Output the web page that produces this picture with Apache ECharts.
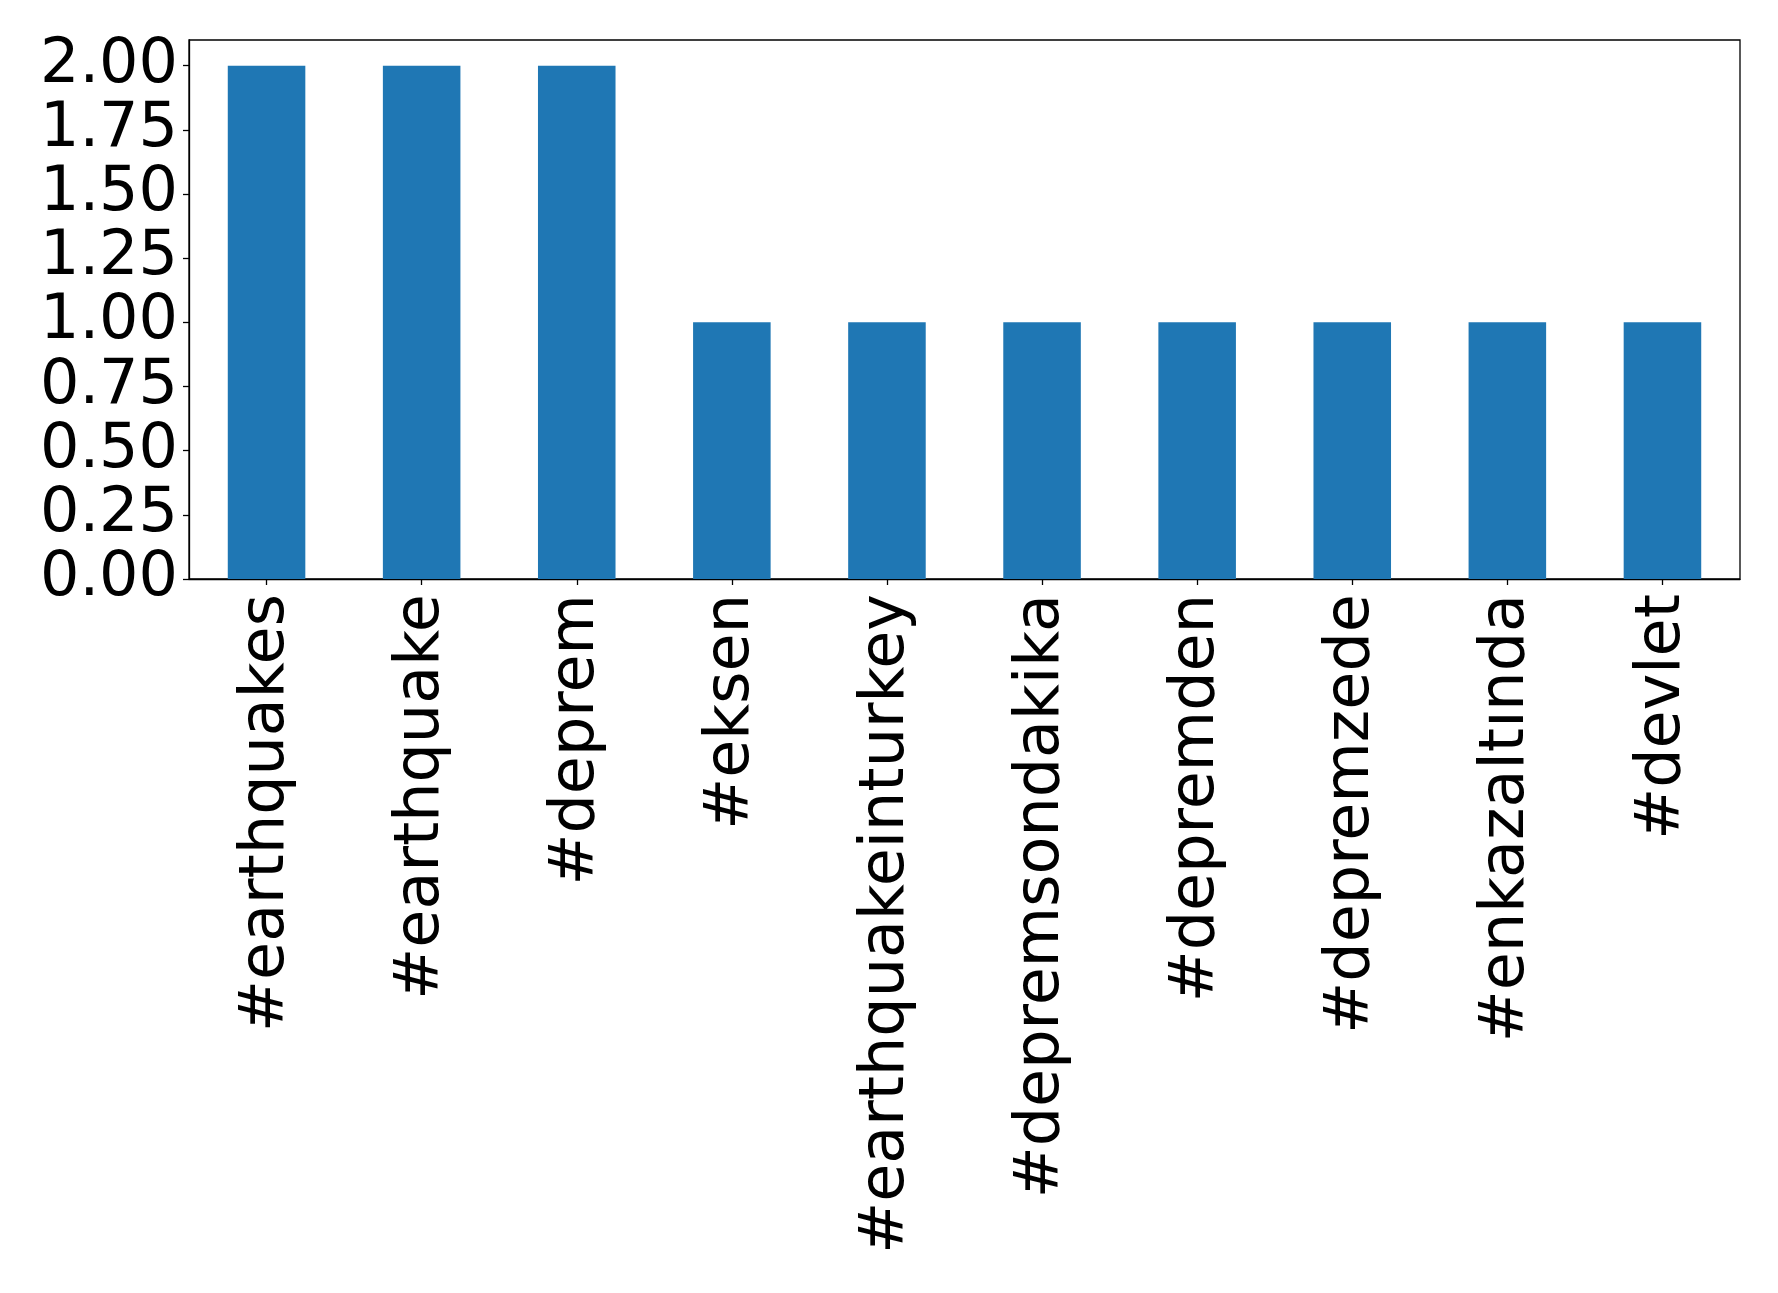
<!DOCTYPE html>
<html><head><meta charset="utf-8">
<script src="https://cdn.jsdelivr.net/npm/echarts@6/dist/echarts.min.js"></script>
<style>html,body{margin:0;padding:0;background:#fff}#c{width:1778px;height:1293px}</style>
</head><body><div id="c"></div>
<script>
const categories = ["#earthquakes","#earthquake","#deprem","#eksen","#earthquakeinturkey","#depremsondakika","#depremden","#depremzede","#enkazaltında","#devlet"];
const values = [2,2,2,1,1,1,1,1,1,1];
const yTicks = [0,0.25,0.5,0.75,1.0,1.25,1.5,1.75,2.0];

const chart = echarts.init(document.getElementById('c'), null, {renderer:'canvas'});
chart.setOption({
  animation:false,
  backgroundColor:'#ffffff',
  grid:{left:189,right:38,top:40,bottom:714,show:true,borderColor:'#000',borderWidth:1.3,backgroundColor:'transparent'},
  xAxis:{type:'category',data:categories,
    axisLine:{show:true,lineStyle:{color:'#000',width:1.3}},
    axisTick:{show:true,alignWithLabel:true,length:6,lineStyle:{color:'#000',width:1.3}},
    axisLabel:{rotate:90,color:'#000',fontSize:62,fontFamily:'DejaVu Sans',margin:15,interval:0,padding:[16,0,0,0]}},
  yAxis:{type:'value',min:0,max:2.1,interval:0.25,
    axisLine:{show:true,lineStyle:{color:'#000',width:1.3}},
    axisTick:{show:true,length:6,lineStyle:{color:'#000',width:1.3}},
    splitLine:{show:false},
    axisLabel:{color:'#000',fontSize:62,fontFamily:'DejaVu Sans',margin:11,showMaxLabel:false,
      formatter:v=>yTicks.some(t=>Math.abs(t-v)<1e-9)?v.toFixed(2):''}},
  series:[{type:'bar',data:values,barWidth:'50%',itemStyle:{color:'#1f77b4'}}]
});
</script></body></html>
